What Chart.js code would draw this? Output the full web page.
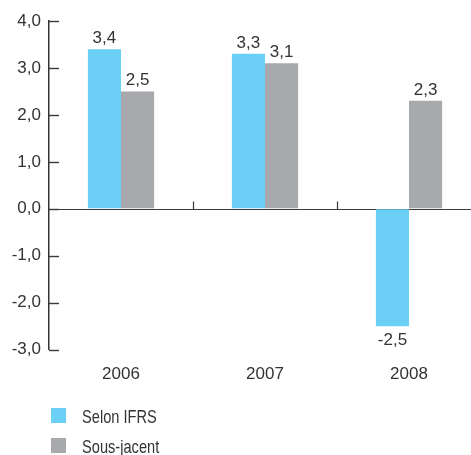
<!DOCTYPE html>
<html>
<head>
<meta charset="utf-8">
<script src="https://cdn.jsdelivr.net/npm/chart.js@4.4.1/dist/chart.umd.min.js"></script>
<style>
html,body{margin:0;padding:0;background:#fff;overflow:hidden;}
#wrap{width:481px;height:455px;}
</style>
</head>
<body>
<div id="wrap"><canvas id="c" width="481" height="455"></canvas></div>
<script>
const categories = ['2006', '2007', '2008'];
const selonIFRS = [3.4, 3.3, -2.5];
const sousJacent = [2.5, 3.1, 2.3];
const seriesNames = ['Selon IFRS', 'Sous-jacent'];
const yMin = -3, yMax = 4, yStep = 1;

const FONT = '"Liberation Sans", Arial, sans-serif';
const TEXT = '#333333';
const BLUE = '#6CCFF6';
const GREY = '#A7A9AC';
const fmt = v => v.toFixed(1).replace('.', ',');

const decor = {
  id: 'decor',
  beforeDatasetsDraw(chart) {
    const ctx = chart.ctx, y = chart.scales.y, x = chart.scales.x, a = chart.chartArea;
    const zy = Math.round(y.getPixelForValue(0)) + 0.5;
    ctx.save();
    ctx.strokeStyle = '#3a3a3a';
    ctx.lineWidth = 1.2;
    ctx.beginPath();
    ctx.moveTo(a.left, zy); ctx.lineTo(chart.width, zy);
    ctx.stroke();
    for (let i = 0; i < categories.length - 1; i++) {
      const bx = Math.round((x.getPixelForValue(i) + x.getPixelForValue(i + 1)) / 2) + 0.5;
      ctx.beginPath(); ctx.moveTo(bx, zy - 8); ctx.lineTo(bx, zy); ctx.stroke();
    }
    ctx.lineWidth = 1.4;
    y.ticks.forEach(t => {
      const py = Math.round(y.getPixelForValue(t.value)) + 0.5;
      ctx.beginPath(); ctx.moveTo(a.left, py); ctx.lineTo(a.left + 10, py); ctx.stroke();
    });
    ctx.restore();
  },
  afterDatasetsDraw(chart) {
    const ctx = chart.ctx;
    ctx.save();
    ctx.font = '17px ' + FONT;
    ctx.fillStyle = TEXT;
    ctx.textAlign = 'center';
    ctx.textBaseline = 'alphabetic';
    chart.data.datasets.forEach((ds, di) => {
      chart.getDatasetMeta(di).data.forEach((bar, i) => {
        const v = ds.data[i];
        const ty = v >= 0 ? bar.y - 6 : bar.y + 19;
        ctx.fillText(fmt(v), bar.x, ty);
      });
    });
    ctx.textAlign = 'left';
    ctx.textBaseline = 'alphabetic';
    chart.data.datasets.forEach((ds, di) => {
      const top = 408 + di * 30;
      ctx.fillStyle = ds.backgroundColor;
      ctx.fillRect(51, top, 15, 15);
      ctx.fillStyle = TEXT;
      ctx.save();
      ctx.translate(82, top + 15);
      ctx.scale(0.77, 1);
      ctx.font = '19px ' + FONT;
      ctx.fillText(ds.label, 0, 0);
      ctx.restore();
    });
    ctx.restore();
  }
};

new Chart(document.getElementById('c'), {
  type: 'bar',
  data: {
    labels: categories,
    datasets: [
      { label: seriesNames[0], data: selonIFRS, backgroundColor: BLUE, borderWidth: 0 },
      { label: seriesNames[1], data: sousJacent, backgroundColor: GREY, borderWidth: 0 }
    ]
  },
  options: {
    responsive: false,
    animation: false,
    datasets: { bar: { categoryPercentage: 0.46, barPercentage: 1 } },
    layout: { padding: { top: 21, right: 0, bottom: 55, left: 0 } },
    plugins: { legend: { display: false }, tooltip: { enabled: false } },
    scales: {
      x: {
        grid: { display: false, drawTicks: false },
        border: { display: false },
        ticks: { color: TEXT, font: { family: FONT, size: 17 }, padding: 15 }
      },
      y: {
        min: yMin, max: yMax,
        grid: { drawOnChartArea: false, drawTicks: false },
        border: { display: true, color: '#333', width: 1.5 },
        ticks: { stepSize: yStep, color: TEXT, font: { family: FONT, size: 17 }, padding: 8,
                 callback: v => fmt(v) },
        afterFit(s) { s.width = 49; }
      }
    }
  },
  plugins: [decor]
});
</script>
</body>
</html>
